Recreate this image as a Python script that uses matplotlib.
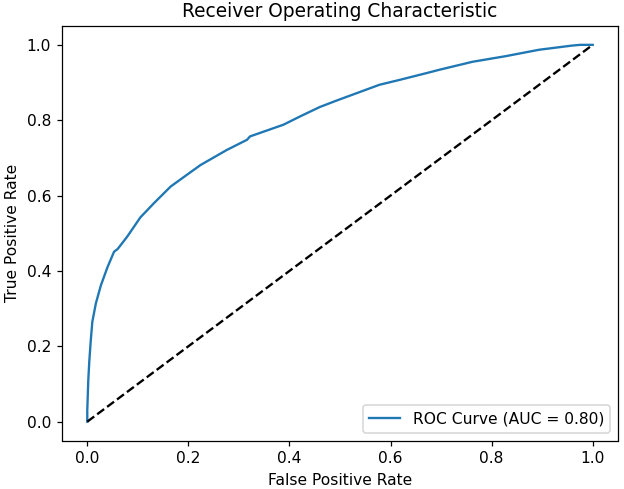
import matplotlib
matplotlib.use("Agg")
import matplotlib.pyplot as plt

fpr = [0.0, 0.0, 0.002, 0.004, 0.007, 0.010, 0.017, 0.027, 0.040, 0.053, 0.060,
       0.079, 0.105, 0.132, 0.165, 0.197, 0.224, 0.276, 0.316, 0.322, 0.388,
       0.421, 0.460, 0.493, 0.578, 0.618, 0.677, 0.697, 0.762, 0.828, 0.894,
       0.959, 0.975, 1.0]
tpr = [0.0, 0.03, 0.11, 0.16, 0.217, 0.265, 0.314, 0.362, 0.41, 0.451, 0.458,
       0.491, 0.542, 0.58, 0.624, 0.655, 0.681, 0.721, 0.748, 0.757, 0.788,
       0.81, 0.835, 0.852, 0.894, 0.907, 0.927, 0.934, 0.955, 0.970, 0.987,
       0.998, 1.0, 1.0]
auc_value = 0.80

dpi = 112
fig = plt.figure(figsize=(624 / dpi, 489 / dpi), dpi=dpi)
ax = fig.add_axes([62 / 624, 48.5 / 489, 556 / 624, 414.5 / 489])
ax.plot(fpr, tpr, label=f"ROC Curve (AUC = {auc_value:.2f})")
ax.plot([0, 1], [0, 1], "k--")
ax.set_xlabel("False Positive Rate")
ax.set_ylabel("True Positive Rate")
ax.set_title("Receiver Operating Characteristic")
ax.legend(loc="lower right")
fig.savefig("out.png", dpi=dpi)
